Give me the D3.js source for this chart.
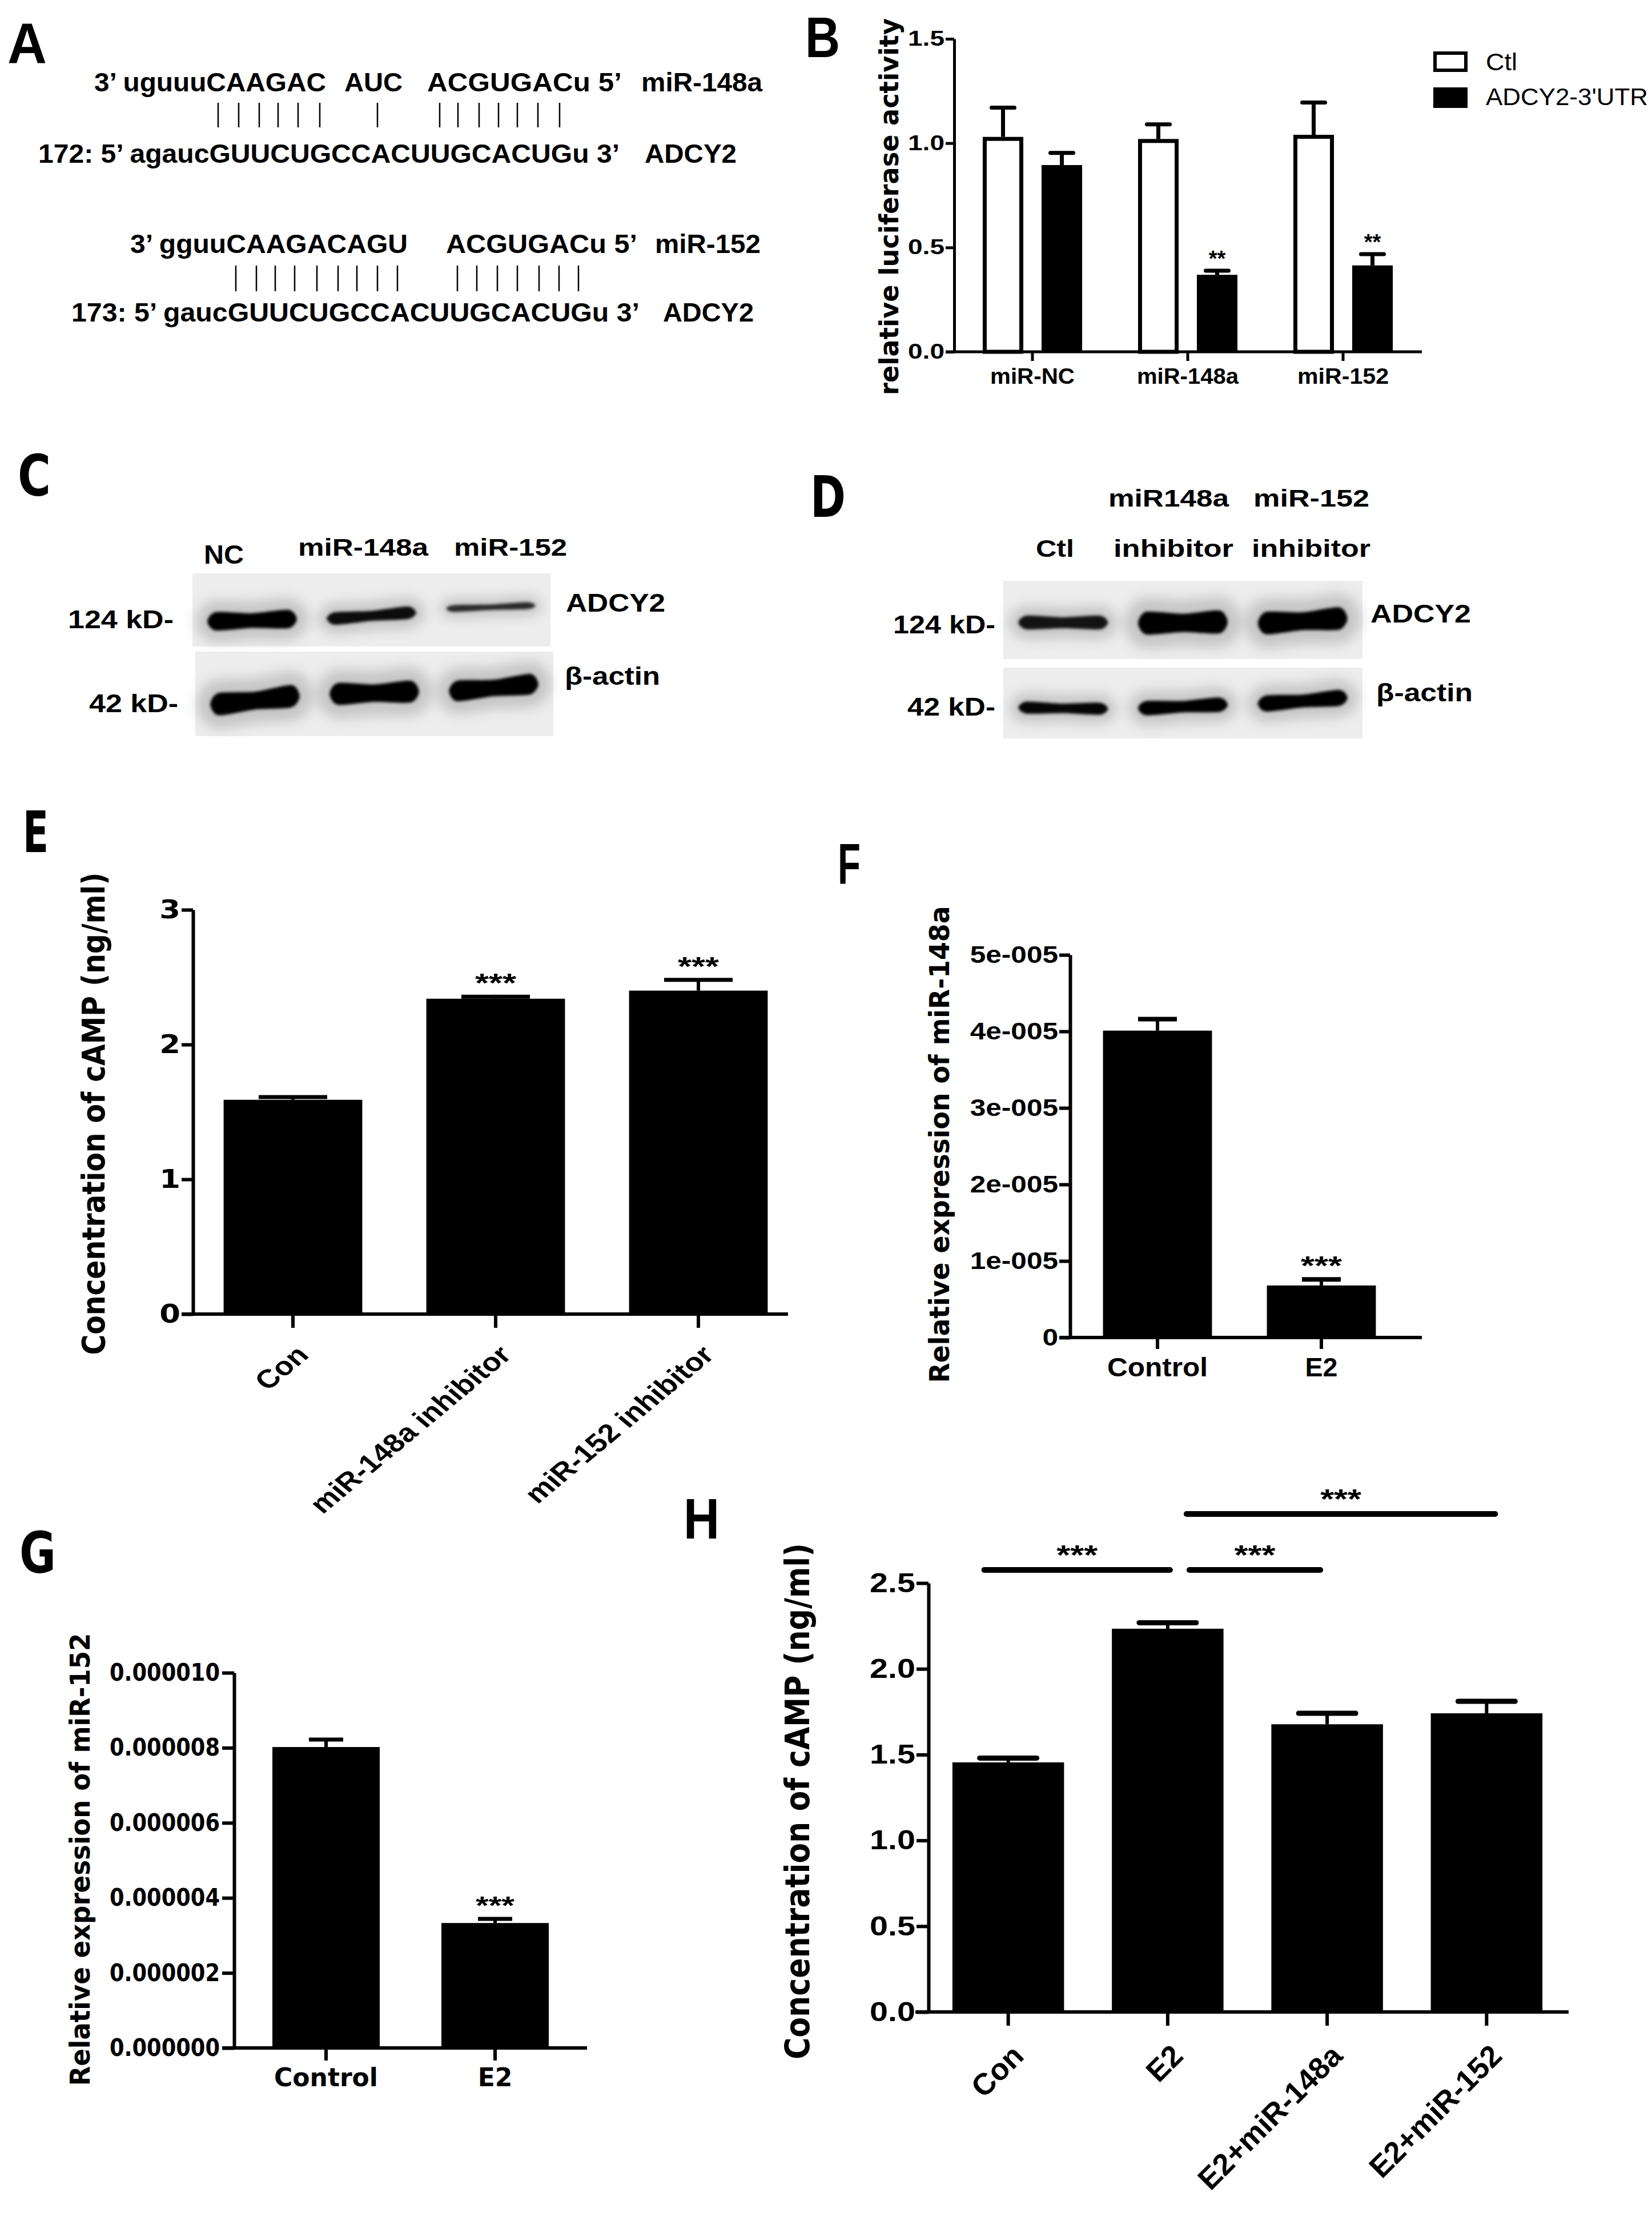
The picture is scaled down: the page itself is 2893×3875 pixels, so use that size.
<!DOCTYPE html>
<html><head><meta charset="utf-8">
<script src="https://cdn.jsdelivr.net/npm/d3@7"></script>
<style>body{margin:0;background:#fff}</style>
</head><body>
<svg id="c" width="2893" height="3875"></svg>
<script>
// ---------------- DATA ----------------
// A: sequence alignment texts
const seqTexts = ["3’ uguuuCAAGAC","AUC","ACGUGACu 5’","miR-148a",
  "172: 5’ agaucGUUCUGCCACUUGCACUGu 3’","ADCY2",
  "3’ gguuCAAGACAGU","ACGUGACu 5’","miR-152",
  "173: 5’ gaucGUUCUGCCACUUGCACUGu 3’","ADCY2"];
// B: luciferase
const bCats = ["miR-NC","miR-148a","miR-152"];
const bSeries = ["Ctl","ADCY2-3'UTR"];
const bCtl = [1.03, 1.02, 1.04];
const bCtlErr = [0.14, 0.07, 0.155];
const bUtr = [0.895, 0.369, 0.414];
const bUtrErr = [0.058, 0.02, 0.054];
const bSig = ["", "**", "**"];
const bTicks = [0, 0.5, 1.0, 1.5];
// C: western blot
const cLanes = ["NC","miR-148a","miR-152"];
const cADCY2 = [1.0, 0.68, 0.38];
const cActin = [1.0, 0.98, 0.92];
// D: western blot
const dLanesTop = ["","miR148a","miR-152"];
const dLanesBot = ["Ctl","inhibitor","inhibitor"];
const dADCY2 = [0.6, 1.0, 0.98];
const dActin = [0.75, 0.9, 1.0];
// E: cAMP
const eCats = ["Con","miR-148a inhibitor","miR-152 inhibitor"];
const eVals = [1.59, 2.34, 2.40];
const eErr = [0.02, 0.015, 0.08];
const eSig = ["", "***", "***"];
const eTicks = [0, 1, 2, 3];
// F: miR-148a expression
const fCats = ["Control","E2"];
const fVals = [4.01e-5, 0.68e-5];
const fErr = [0.15e-5, 0.08e-5];
const fSig = ["", "***"];
const fTicks = [0, 1e-5, 2e-5, 3e-5, 4e-5, 5e-5];
const fTickLabels = ["0","1e-005","2e-005","3e-005","4e-005","5e-005"];
// G: miR-152 expression
const gCats = ["Control","E2"];
const gVals = [8.02e-6, 3.33e-6];
const gErr = [0.2e-6, 0.11e-6];
const gSig = ["", "***"];
const gTicks = [0, 2e-6, 4e-6, 6e-6, 8e-6, 1e-5];
const gTickLabels = ["0.000000","0.000002","0.000004","0.000006","0.000008","0.000010"];
// H: cAMP with E2
const hCats = ["Con","E2","E2+miR-148a","E2+miR-152"];
const hVals = [1.455, 2.234, 1.677, 1.741];
const hErr = [0.025, 0.035, 0.064, 0.07];
const hTicks = [0, 0.5, 1.0, 1.5, 2.0, 2.5];
const hSigPairs = [["Con","E2","***"],["E2","E2+miR-148a","***"],["E2","E2+miR-152","***"]];

// ---------------- LAYOUT ----------------
const FA = "'Liberation Sans', Arial, Helvetica, sans-serif";
const FV = "'DejaVu Sans', Verdana, sans-serif";
const svg = d3.select("#c");
svg.append("rect").attr("width",2893).attr("height",3875).attr("fill","#fff");
const defs = svg.append("defs");
defs.append("filter").attr("id","bs").attr("x","-20%").attr("y","-80%").attr("width","140%").attr("height","260%")
  .append("feGaussianBlur").attr("stdDeviation",2.8);
defs.append("filter").attr("id","bl").attr("x","-30%").attr("y","-150%").attr("width","160%").attr("height","400%")
  .append("feGaussianBlur").attr("stdDeviation",11);

function T(g, s, x, y, o = {}) {
  const t = g.append("text").attr("x", x).attr("y", y).text(s)
    .attr("font-family", o.fam || FA).attr("font-size", o.size || 40)
    .attr("font-weight", o.w || "bold").attr("text-anchor", o.anchor || "start").attr("fill", "#000");
  if (o.db) t.attr("dominant-baseline", o.db);
  if (o.len) t.attr("textLength", o.len).attr("lengthAdjust", "spacingAndGlyphs");
  if (o.rot != null) t.attr("transform", `rotate(${o.rot},${x},${y})`);
  return t;
}
// rotated + horizontally stretched label (anchored at its end)
function RT(g, s, ax, ay, o) {
  return g.append("text").attr("x", 0).attr("y", 0).text(s)
    .attr("transform", `translate(${ax},${ay}) scale(${o.sx || 1},1) rotate(${o.rot})`)
    .attr("font-family", o.fam || FA).attr("font-size", o.size).attr("font-weight", "bold")
    .attr("text-anchor", "end").attr("fill", "#000");
}
function yAxis(g, y, ax, ticks, fmt, o) {
  const a = d3.axisLeft(y).tickValues(ticks).tickFormat(fmt).tickSize(o.tick).tickSizeOuter(0).tickPadding(o.pad ?? 3);
  const s = g.append("g").attr("transform", `translate(${ax},0)`).call(a);
  s.select(".domain").attr("stroke", "#000").attr("stroke-width", o.sw);
  s.selectAll(".tick line").attr("stroke", "#000").attr("stroke-width", o.sw);
  const tx = s.selectAll(".tick text").attr("font-family", o.fam).attr("font-size", o.size)
    .attr("font-weight", "bold").attr("fill", "#000");
  if (o.len) tx.attr("textLength", o.len).attr("lengthAdjust", "spacingAndGlyphs");
  if (o.sx) tx.each(function () {
    const w = this.getComputedTextLength();
    d3.select(this).attr("textLength", w * o.sx).attr("lengthAdjust", "spacingAndGlyphs");
  });
  return s;
}
function xAxis(g, x, ax0, ax1, y0, o) {
  g.append("line").attr("x1", ax0).attr("x2", ax1).attr("y1", y0).attr("y2", y0)
    .attr("stroke", "#000").attr("stroke-width", o.sw);
  const s = g.append("g").attr("transform", `translate(0,${y0})`)
    .call(d3.axisBottom(x).tickSize(o.tick).tickSizeOuter(0).tickFormat(""));
  s.select(".domain").remove();
  s.selectAll(".tick line").attr("stroke", "#000").attr("stroke-width", o.sw);
}
function solidBars(g, x, y, cats, vals, errs, sig, o) {
  const d = cats.map((c, i) => ({c, v: vals[i], e: errs[i], s: sig ? sig[i] : ""}));
  const cx = k => x(k) + x.bandwidth() / 2;
  g.selectAll("rect.bar").data(d).join("rect").attr("class","bar")
    .attr("x", k => x(k.c)).attr("width", x.bandwidth())
    .attr("y", k => y(k.v)).attr("height", k => y(0) - y(k.v)).attr("fill", "#000");
  g.selectAll("line.ev").data(d).join("line").attr("class","ev")
    .attr("x1", k => cx(k.c)).attr("x2", k => cx(k.c))
    .attr("y1", k => y(k.v)).attr("y2", k => y(k.v + k.e)).attr("stroke","#000").attr("stroke-width", o.sw);
  g.selectAll("line.ec").data(d).join("line").attr("class","ec")
    .attr("x1", k => cx(k.c) - o.cap/2).attr("x2", k => cx(k.c) + o.cap/2)
    .attr("y1", k => y(k.v + k.e)).attr("y2", k => y(k.v + k.e))
    .attr("stroke","#000").attr("stroke-width", o.capW || o.sw).attr("stroke-linecap", o.lc || "butt");
  g.selectAll("text.sig").data(d.filter(k => k.s)).join("text").attr("class","sig")
    .attr("x", k => cx(k.c)).attr("y", k => y(k.v + k.e) - o.sigGap)
    .attr("text-anchor","middle").attr("font-family", FA).attr("font-weight","bold")
    .attr("font-size", o.sigSize).attr("textLength", o.sigLen).attr("lengthAdjust","spacingAndGlyphs")
    .text(k => k.s);
}
function band(g, x0, w, yc, tilt, th, op) {
  const yl = yc - tilt/2, yr = yc + tilt/2, ym = yc;
  const pts = [[x0 - 2, yl], [x0 + w*0.08, yl - th/2], [x0 + w*0.5, ym - th*0.38], [x0 + w*0.92, yr - th/2],
               [x0 + w + 2, yr], [x0 + w*0.92, yr + th/2], [x0 + w*0.5, ym + th*0.42], [x0 + w*0.08, yl + th/2]];
  const p = d3.line().curve(d3.curveCardinalClosed.tension(0.3))(pts);
  g.append("path").attr("d", p).attr("fill", "none").attr("stroke", "#6a6a6a").attr("stroke-width", th*0.9 + 12)
    .attr("opacity", 0.3).attr("filter", "url(#bl)");
  g.append("path").attr("d", p).attr("fill", "#000").attr("fill-opacity", op).attr("filter", "url(#bs)");
}
function blot(g, lanes, rx0, rx1, ry0, ry1, inten, ys, tilts, base) {
  g.append("rect").attr("x", rx0).attr("y", ry0).attr("width", rx1 - rx0).attr("height", ry1 - ry0).attr("fill", "#ededed");
  const x = d3.scaleBand().domain(d3.range(lanes.length)).range([rx0, rx1]).paddingInner(0.27).paddingOuter(0.135);
  inten.forEach((v, i) => band(g, x(i), x.bandwidth(), ys[i], tilts[i], base * v, Math.min(1, 0.6 + 0.5 * v)));
}

// ---------------- PANEL LETTERS ----------------
const letters = svg.append("g");
[["A",13,111,69,FA],["B",1410,100,61,FA],["C",31,868,58,FV],["D",1419,905,62,FV],
 ["E",40,1492,45,FV],["F",1467,1547,40,FA],["G",34,2754,64,FV],["H",1197,2694,63,FA]]
 .forEach(([s,x,y,l,f]) => T(letters, s, x, y, {size: 100, fam: f, len: l}));

// ---------------- A ----------------
const gA = svg.append("g");
const seqLayout = [[165,571,160],[603,705,160],[748,1089,160],[1123,1335,160],[67,1085,285],[1129,1290,285],
  [228,714,443],[781,1116,443],[1147,1332,443],[125,1120,563],[1161,1320,563]];
seqTexts.forEach((s, i) => { const [a, b, yb] = seqLayout[i]; T(gA, s, a, yb, {size: 47, len: b - a}); });
const pair1 = [382,418,454,487,522,560,661,770,802,839,873,906,942,980];
const pair2 = [413,449,482,516,555,592,625,661,696,801,835,871,906,944,979,1013];
pair1.forEach(px => gA.append("line").attr("x1",px).attr("x2",px).attr("y1",180).attr("y2",223).attr("stroke","#000").attr("stroke-width",2.5));
pair2.forEach(px => gA.append("line").attr("x1",px).attr("x2",px).attr("y1",465).attr("y2",510).attr("stroke","#000").attr("stroke-width",2.5));

// ---------------- B ----------------
{
  const g = svg.append("g");
  const y = d3.scaleLinear().domain([0, 1.5]).range([616, 68]);
  const x = d3.scaleBand().domain(bCats).range([1672, 2488]);
  const s = d3.scaleBand().domain(bSeries).range([-103, 103]).paddingInner(0.31).paddingOuter(0.155);
  const rows = [];
  bCats.forEach((c, i) => {
    rows.push({c, ser: bSeries[0], v: bCtl[i], e: bCtlErr[i], sig: ""});
    rows.push({c, ser: bSeries[1], v: bUtr[i], e: bUtrErr[i], sig: bSig[i]});
  });
  const bx = r => x(r.c) + x.bandwidth()/2 + s(r.ser);
  const bw = s.bandwidth();
  g.selectAll("rect.b").data(rows).join("rect").attr("class","b")
    .attr("x", r => r.ser === "Ctl" ? bx(r) + 3.5 : bx(r)).attr("width", r => r.ser === "Ctl" ? bw - 7 : bw)
    .attr("y", r => y(r.v) + (r.ser === "Ctl" ? 3.5 : 0)).attr("height", r => y(0) - y(r.v) - (r.ser === "Ctl" ? 3.5 : 0))
    .attr("fill", r => r.ser === "Ctl" ? "#fff" : "#000").attr("stroke", "#000").attr("stroke-width", r => r.ser === "Ctl" ? 7 : 0);
  g.selectAll("line.ev").data(rows).join("line").attr("class","ev")
    .attr("x1", r => bx(r) + bw/2).attr("x2", r => bx(r) + bw/2)
    .attr("y1", r => y(r.v)).attr("y2", r => y(r.v + r.e)).attr("stroke","#000").attr("stroke-width",7);
  g.selectAll("line.ec").data(rows).join("line").attr("class","ec")
    .attr("x1", r => bx(r) + bw/2 - 20).attr("x2", r => bx(r) + bw/2 + 20)
    .attr("y1", r => y(r.v + r.e)).attr("y2", r => y(r.v + r.e)).attr("stroke","#000").attr("stroke-width",7).attr("stroke-linecap","round");
  g.selectAll("text.sg").data(rows.filter(r => r.sig)).join("text").attr("class","sg")
    .attr("x", r => bx(r) + bw/2).attr("y", r => y(r.v + r.e) - 8).attr("text-anchor","middle")
    .attr("font-family", FA).attr("font-weight","bold").attr("font-size",38).text(r => r.sig);
  yAxis(g, y, 1671, bTicks, d3.format(".1f"), {tick: 15, sw: 5, fam: FA, size: 36, pad: 2, len: 64});
  xAxis(g, x, 1656, 2490, 616, {tick: 16, sw: 5});
  const lw = [148, 178, 160];
  bCats.forEach((c, i) => T(g, c, x(c) + x.bandwidth()/2, 672, {size: 38, anchor: "middle", len: lw[i]}));
  T(g, "relative luciferase activity", 1557, 362, {size: 46, fam: FV, anchor: "middle", db: "central", rot: -90, len: 660});
  // legend
  g.append("rect").attr("x", 2513).attr("y", 93).attr("width", 54).attr("height", 30).attr("fill","#fff").attr("stroke","#000").attr("stroke-width",6);
  g.append("rect").attr("x", 2510).attr("y", 153).attr("width", 60).attr("height", 36).attr("fill","#000");
  T(g, bSeries[0], 2602, 123, {size: 42, w: "normal", len: 55});
  T(g, bSeries[1], 2602, 184, {size: 42, w: "normal", len: 284});
}

// ---------------- C ----------------
{
  const g = svg.append("g");
  blot(g, cLanes, 337, 964, 1004, 1132, cADCY2, [1086, 1078, 1063], [-4, -10, -5], 32);
  blot(g, cLanes, 342, 969, 1141, 1289, cActin, [1226, 1213, 1204], [-14, -4, -12], 39);
  const lx = [[357,70,987],[522,228,973],[795,198,973]];
  cLanes.forEach((s, i) => T(g, s, lx[i][0], lx[i][2], {size: i === 0 ? 46 : 42, len: lx[i][1]}));
  T(g, "124 kD-", 119, 1100, {size: 44, len: 185});
  T(g, "42 kD-", 156, 1247, {size: 44, len: 156});
  T(g, "ADCY2", 991, 1071, {size: 44, len: 174});
  T(g, "β-actin", 989, 1199, {size: 44, len: 167});
}
// ---------------- D ----------------
{
  const g = svg.append("g");
  blot(g, dLanesBot, 1757, 2386, 1017, 1154, dADCY2, [1090, 1090, 1087], [0, -2, -8], 40);
  blot(g, dLanesBot, 1757, 2386, 1169, 1293, dActin, [1240, 1237, 1227], [2, -6, -10], 28);
  const tx = [[0,0],[1941,211],[2195,203]];
  dLanesTop.forEach((s, i) => { if (s) T(g, s, tx[i][0], 887, {size: 42, len: tx[i][1]}); });
  const bxs = [[1814,67],[1950,210],[2192,208]];
  dLanesBot.forEach((s, i) => T(g, s, bxs[i][0], 975, {size: 42, len: bxs[i][1]}));
  T(g, "124 kD-", 1564, 1109, {size: 44, len: 179});
  T(g, "42 kD-", 1589, 1253, {size: 44, len: 154});
  T(g, "ADCY2", 2400, 1090, {size: 44, len: 176});
  T(g, "β-actin", 2410, 1228, {size: 44, len: 169});
}

// ---------------- E ----------------
{
  const g = svg.append("g");
  const y = d3.scaleLinear().domain([0, 3]).range([2301, 1593]);
  const x = d3.scaleBand().domain(eCats).range([335.5, 1400.5]).paddingInner(0.316).paddingOuter(0.158);
  solidBars(g, x, y, eCats, eVals, eErr, eSig, {sw: 6, cap: 120, capW: 7, sigGap: 8, sigSize: 46, sigLen: 72});
  yAxis(g, y, 338, eTicks, d3.format("d"), {tick: 20, sw: 6, fam: FV, size: 44, pad: 2, sx: 1.2});
  xAxis(g, x, 318, 1380, 2301, {tick: 24, sw: 6});
  eCats.forEach(c => RT(g, c, x(c) + x.bandwidth()/2 + 30, 2301 + 74, {size: 45, rot: -45, sx: 1.2}));
  T(g, "Concentration of cAMP (ng/ml)", 163, 1950, {size: 56, fam: FV, anchor: "middle", db: "central", rot: -90, len: 845});
}
// ---------------- F ----------------
{
  const g = svg.append("g");
  const y = d3.scaleLinear().domain([0, 5e-5]).range([2342, 1672]);
  const x = d3.scaleBand().domain(fCats).range([1883.5, 2457.5]).paddingInner(0.335).paddingOuter(0.1675);
  solidBars(g, x, y, fCats, fVals, fErr, fSig, {sw: 6, cap: 68, capW: 8, sigGap: 8, sigSize: 46, sigLen: 72});
  yAxis(g, y, 1874, fTicks, (d, i) => fTickLabels[i], {tick: 19, sw: 6, fam: FA, size: 42, pad: 2, sx: 1.18});
  xAxis(g, x, 1855, 2490, 2342, {tick: 20, sw: 6});
  const lw = [176, 57];
  fCats.forEach((c, i) => T(g, c, x(c) + x.bandwidth()/2, 2410, {size: 46, anchor: "middle", len: lw[i]}));
  T(g, "Relative expression of miR-148a", 1645, 2004, {size: 48, fam: FV, anchor: "middle", db: "central", rot: -90, len: 835});
}
// ---------------- G ----------------
{
  const g = svg.append("g");
  const y = d3.scaleLinear().domain([0, 1e-5]).range([3586, 2929]);
  const x = d3.scaleBand().domain(gCats).range([423, 1015]).paddingInner(0.365).paddingOuter(0.1825);
  solidBars(g, x, y, gCats, gVals, gErr, gSig, {sw: 6, cap: 60, capW: 7, sigGap: 8, sigSize: 44, sigLen: 68});
  yAxis(g, y, 410, gTicks, (d, i) => gTickLabels[i], {tick: 21, sw: 6, fam: FV, size: 42, pad: 4, len: 193});
  xAxis(g, x, 389, 1028, 3586, {tick: 22, sw: 6});
  gCats.forEach(c => T(g, c, x(c) + x.bandwidth()/2, 3653, {size: 44, fam: FV, anchor: "middle"}));
  T(g, "Relative expression of miR-152", 140, 3256, {size: 48, fam: FV, anchor: "middle", db: "central", rot: -90, len: 793});
}
// ---------------- H ----------------
{
  const g = svg.append("g");
  const y = d3.scaleLinear().domain([0, 2.5]).range([3523, 2772]);
  const x = d3.scaleBand().domain(hCats).range([1626, 2743]).paddingInner(0.30).paddingOuter(0.15);
  solidBars(g, x, y, hCats, hVals, hErr, null, {sw: 6, cap: 100, capW: 9, lc: "round", sigGap: 8, sigSize: 46, sigLen: 70});
  yAxis(g, y, 1626, hTicks, d3.format(".1f"), {tick: 21, sw: 6, fam: FA, size: 48, pad: 2, len: 80});
  xAxis(g, x, 1603, 2747, 3523, {tick: 24, sw: 6});
  hCats.forEach(c => RT(g, c, x(c) + x.bandwidth()/2 + 30, 3523 + 80, {size: 53, rot: -45, sx: 1}));
  T(g, "Concentration of cAMP (ng/ml)", 1397, 3154, {size: 58, fam: FV, anchor: "middle", db: "central", rot: -90, len: 904});
  // significance brackets
  const cx = c => x(c) + x.bandwidth()/2;
  const sigLay = [[-42, 4, 2749], [38, -12, 2749], [33, 15, 2651]];
  hSigPairs.forEach(([a, b, s], i) => {
    const [oa, ob, ly] = sigLay[i];
    const x1 = cx(a) + oa, x2 = cx(b) + ob;
    g.append("line").attr("x1", x1).attr("x2", x2).attr("y1", ly).attr("y2", ly)
      .attr("stroke", "#000").attr("stroke-width", 10).attr("stroke-linecap", "round");
    T(g, s, (x1 + x2)/2, ly - 10, {size: 48, anchor: "middle", len: 72});
  });
}
</script>
</body></html>
